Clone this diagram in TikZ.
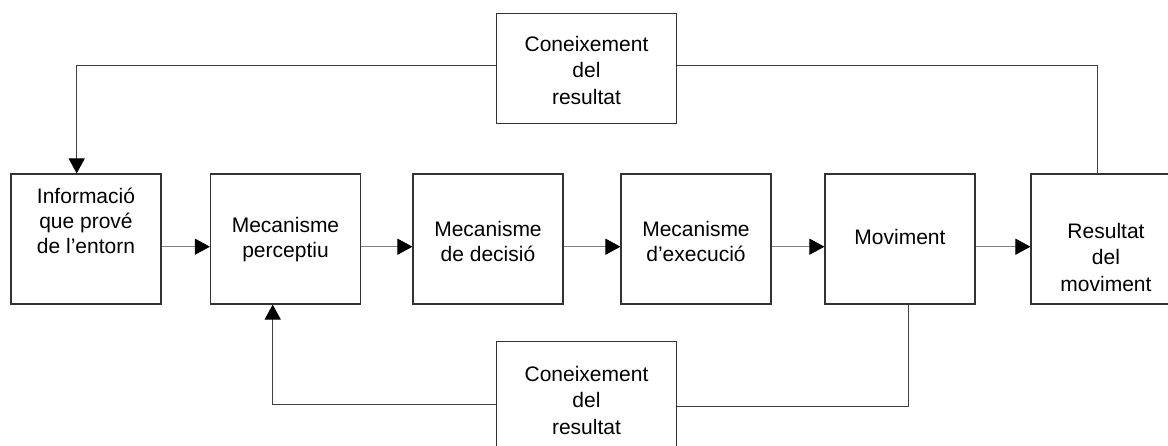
\documentclass[tikz,border=0pt]{standalone}
\usepackage{fontspec}
\setmainfont{Liberation Sans}
\usetikzlibrary{arrows.meta,calc}
\begin{document}
\begin{tikzpicture}[x=1pt,y=-1pt,
  box/.style={draw=black!80,line width=1.1pt,minimum width=150pt,minimum height=130pt,inner sep=0pt},
  kbox/.style={box,minimum width=180pt,minimum height=110pt},
  txt/.style={align=center,inner sep=0pt,font=\fontsize{21}{25}\selectfont},
  txtwide/.style={txt,font=\fontsize{21}{26.5}\selectfont},
  tip/.style={-{Triangle[length=15pt,width=16pt,black]}},
  flow/.style={draw=black!50,line width=0.8pt,tip},
  fb/.style={draw=black!75,line width=1pt},
  fbarrow/.style={fb,tip},
]
\useasboundingbox (0,0) rectangle (1168,445);
\fill[white] (0,0) rectangle (1168,445);
\clip (0,0) rectangle (1168,445);

% main chain of boxes
\node[box] (info) at (86,239) {};
\node[box] (perc) at (285.5,239) {};
\node[box] (dec)  at (488,239) {};
\node[box] (exe)  at (696,239) {};
\node[box] (mov)  at (900,239) {};
\node[box] (res)  at (1106,239) {};

% feedback boxes
\node[kbox] (top) at (586.5,68.5) {};
\node[kbox] (bot) at (586.5,396.7) {};

% box labels
\node[txt] (info-t) at ($(info.center)+(0,-18)$) {Informació\\que prové\\de l’entorn};
\node[txt] (perc-t) at ($(perc.center)+(0,1)$) {Mecanisme\\perceptiu};
\node[txt] (dec-t)  at ($(dec.center)+(0,2)$) {Mecanisme\\de decisió};
\node[txt] (exe-t)  at ($(exe.center)+(0,2)$) {Mecanisme\\d’execució};
\node[txt] (mov-t)  at ($(mov.center)+(0,-2.3)$) {Moviment};
\node[txtwide] (res-t) at ($(res.center)+(0,18)$) {Resultat\\del\\moviment};
\node[txtwide] (top-t) at ($(top.center)+(0,1.5)$) {Coneixement\\del\\resultat};
\node[txtwide] (bot-t) at ($(bot.center)+(0,3.3)$) {Coneixement\\del\\resultat};

% forward flow
\draw[flow] ($(info.east)+(0,7.7)$) -- ($(perc.west)+(0,7.7)$);
\draw[flow] ($(perc.east)+(0,7.7)$) -- ($(dec.west)+(0,7.7)$);
\draw[flow] ($(dec.east)+(0,7.7)$)  -- ($(exe.west)+(0,7.7)$);
\draw[flow] ($(exe.east)+(0,7.7)$)  -- ($(mov.west)+(0,7.7)$);
\draw[flow] ($(mov.east)+(0,7.7)$)  -- ($(res.west)+(0,7.7)$);

% upper feedback loop
\draw[fb] ($(res.north)+(-9,0)$) |- ($(top.east)+(0,-2.8)$);
\draw[fbarrow] ($(top.west)+(0,-2.8)$) -| ($(info.north)+(-9.3,0)$);

% lower feedback loop
\draw[fb] ($(mov.south)+(8.7,0)$) |- ($(bot.east)+(0,9.3)$);
\draw[fbarrow] ($(bot.west)+(0,7.3)$) -| ($(perc.south)+(-12.8,0)$);
\end{tikzpicture}
\end{document}
